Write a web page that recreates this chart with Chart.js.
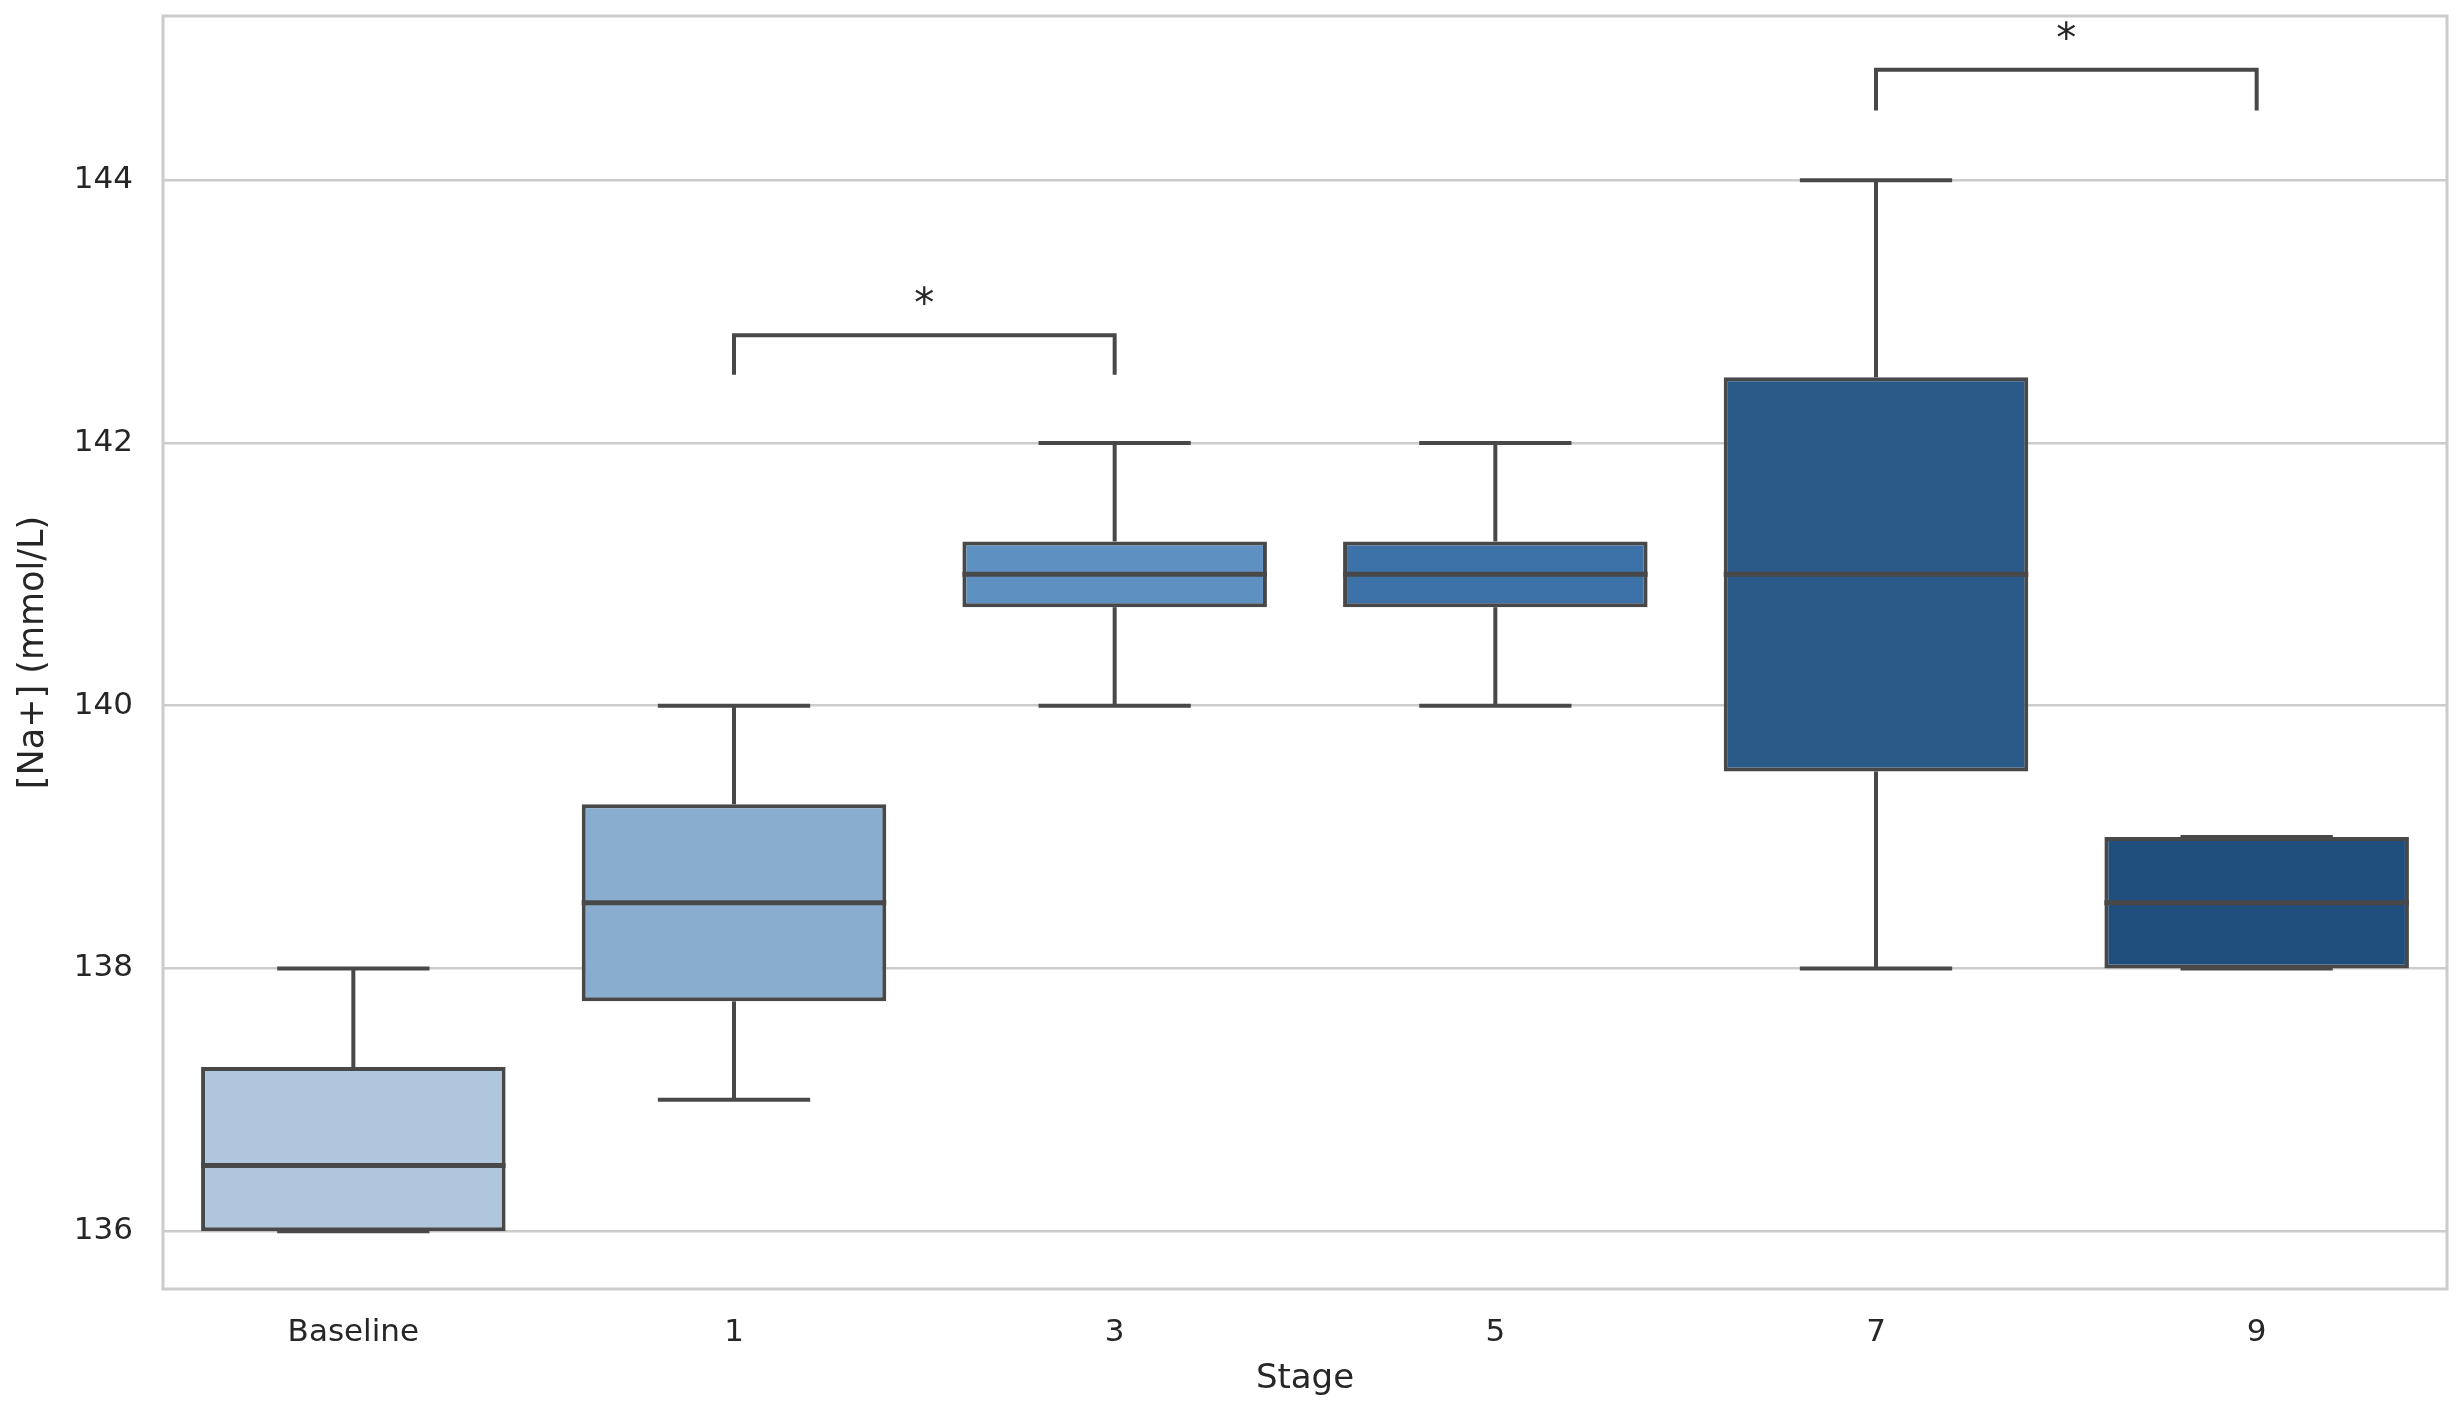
<!DOCTYPE html>
<html>
<head>
<meta charset="utf-8">
<script src="https://cdn.jsdelivr.net/npm/chart.js@4.4.0/dist/chart.umd.min.js"></script>
<style>
  html, body { margin: 0; padding: 0; background: #ffffff; }
  #wrap { width: 2458px; height: 1413px; }
</style>
</head>
<body>
<div id="wrap"><canvas id="boxChart"></canvas></div>
<script>
// box plot values
const stages = ["Baseline", "1", "3", "5", "7", "9"];
const whiskerLow = [136, 137, 140, 140, 138, 138];
const quartile1 = [136, 137.75, 140.75, 140.75, 139.5, 138];
const medians = [136.5, 138.5, 141, 141, 141, 138.5];
const quartile3 = [137.25, 139.25, 141.25, 141.25, 142.5, 139];
const whiskerHigh = [138, 140, 142, 142, 144, 139];
const boxColors = ["#afc6dd", "#89adcf", "#5f90c2", "#3c72a8", "#2a5a88", "#204e7d"];
const yTicks = [136, 138, 140, 142, 144];

// significance brackets
const bracketFrom = ["1", "7"];
const bracketTo = ["3", "9"];
const bracketTop = [142.82, 144.84];
const bracketLegEnd = [142.52, 144.53];
const bracketStarAt = [143.08, 145.1];
const bracketLabels = ["*", "*"];

const lineColor = "#484848";
const textColor = "#262626";

function drawLine(ctx, x1, y1, x2, y2) {
  ctx.beginPath();
  ctx.moveTo(x1, y1);
  ctx.lineTo(x2, y2);
  ctx.stroke();
}

const frameBorder = {
  id: "frameBorder",
  beforeDatasetsDraw(chart) {
    const { ctx, chartArea } = chart;
    ctx.save();
    ctx.strokeStyle = "#cccccc";
    ctx.lineWidth = 3;
    ctx.strokeRect(chartArea.left, chartArea.top, chartArea.right - chartArea.left, chartArea.bottom - chartArea.top);
    ctx.restore();
  },
};

const boxParts = {
  id: "boxParts",
  afterDatasetsDraw(chart) {
    const ctx = chart.ctx;
    const xScale = chart.scales.x;
    const yScale = chart.scales.y;
    const meta = chart.getDatasetMeta(0);

    ctx.save();
    ctx.strokeStyle = lineColor;
    ctx.lineCap = "butt";

    meta.data.forEach((bar, i) => {
      const cx = bar.x;
      const half = bar.width / 2;
      const capHalf = half / 2;
      const yHigh = yScale.getPixelForValue(whiskerHigh[i]);
      const yLow = yScale.getPixelForValue(whiskerLow[i]);
      const yQ1 = yScale.getPixelForValue(quartile1[i]);
      const yQ3 = yScale.getPixelForValue(quartile3[i]);
      const yMed = yScale.getPixelForValue(medians[i]);

      ctx.lineWidth = 4;
      drawLine(ctx, cx, yQ3, cx, yHigh);
      drawLine(ctx, cx, yQ1, cx, yLow);
      drawLine(ctx, cx - capHalf, yHigh, cx + capHalf, yHigh);
      drawLine(ctx, cx - capHalf, yLow, cx + capHalf, yLow);

      ctx.lineWidth = 5;
      drawLine(ctx, cx - half, yMed, cx + half, yMed);
    });

    // brackets
    ctx.lineWidth = 4;
    ctx.fillStyle = textColor;
    ctx.font = "40px 'DejaVu Sans'";
    ctx.textAlign = "center";
    ctx.textBaseline = "middle";
    bracketFrom.forEach((from, i) => {
      const x1 = xScale.getPixelForValue(stages.indexOf(from));
      const x2 = xScale.getPixelForValue(stages.indexOf(bracketTo[i]));
      const yTop = yScale.getPixelForValue(bracketTop[i]);
      const yLeg = yScale.getPixelForValue(bracketLegEnd[i]);
      ctx.beginPath();
      ctx.moveTo(x1, yLeg);
      ctx.lineTo(x1, yTop);
      ctx.lineTo(x2, yTop);
      ctx.lineTo(x2, yLeg);
      ctx.stroke();
      ctx.fillText(bracketLabels[i], (x1 + x2) / 2, yScale.getPixelForValue(bracketStarAt[i]) + 6);
    });
    ctx.restore();
  },
};

const boxData = stages.map((s, i) => [quartile1[i], quartile3[i]]);

const ctx = document.getElementById("boxChart").getContext("2d");
new Chart(ctx, {
  type: "bar",
  data: {
    labels: stages,
    datasets: [
      {
        data: boxData,
        backgroundColor: boxColors,
        borderColor: lineColor,
        borderWidth: 4,
        borderSkipped: false,
        barPercentage: 0.8,
        categoryPercentage: 1.0,
      },
    ],
  },
  options: {
    responsive: true,
    maintainAspectRatio: false,
    animation: false,
    layout: { padding: { top: 16, right: 11, left: 0, bottom: 0 } },
    plugins: {
      legend: { display: false },
      tooltip: { enabled: false },
    },
    scales: {
      x: {
        afterFit: (scale) => {
          scale.height = 124;
          scale.paddingLeft = 0;
          scale.paddingRight = 0;
        },
        grid: { display: false, drawTicks: false },
        border: { display: false },
        ticks: {
          color: textColor,
          padding: 25,
          font: { family: "DejaVu Sans", size: 31 },
        },
        title: {
          display: true,
          text: "Stage",
          color: textColor,
          font: { family: "DejaVu Sans", size: 34 },
          padding: { top: 0, bottom: 13 },
        },
      },
      y: {
        min: 135.56,
        max: 145.25,
        afterFit: (scale) => {
          scale.width = 163;
          scale.paddingTop = 0;
          scale.paddingBottom = 0;
        },
        afterBuildTicks: (scale) => {
          scale.ticks = yTicks.map((v) => ({ value: v }));
        },
        grid: { color: "#cccccc", lineWidth: 2.5, drawTicks: false },
        border: { display: false },
        ticks: {
          color: textColor,
          padding: 30,
          font: { family: "DejaVu Sans", size: 31 },
        },
        title: {
          display: true,
          text: "[Na+] (mmol/L)",
          color: textColor,
          font: { family: "DejaVu Sans", size: 35 },
          padding: { top: 13, bottom: 0 },
        },
      },
    },
  },
  plugins: [frameBorder, boxParts],
});
</script>
</body>
</html>
